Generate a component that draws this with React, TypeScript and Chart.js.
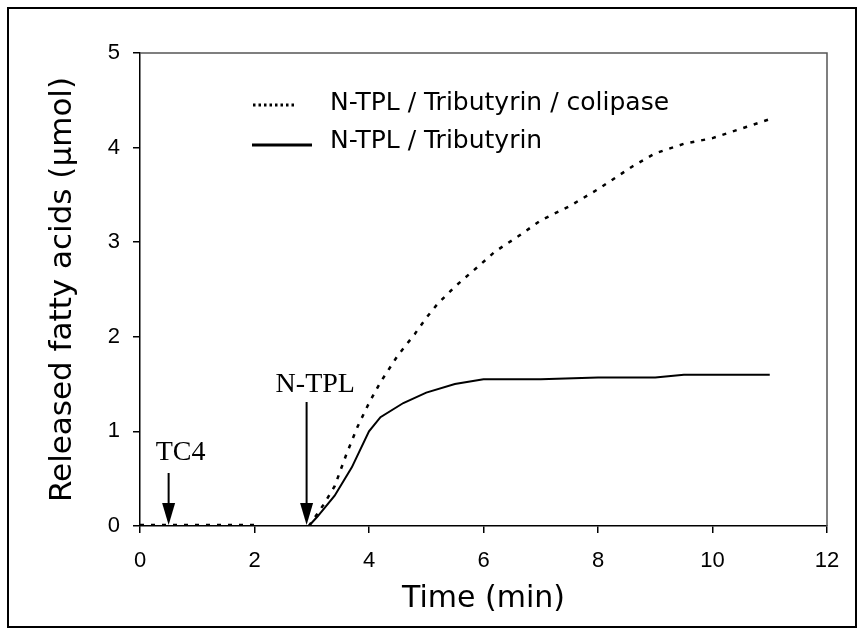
import { useEffect, useRef } from "react";
import { Chart, registerables } from "chart.js";

Chart.register(...registerables);

// Time axis (min) and released fatty acids (µmol)
const colipaseTime = [0, 0.5, 1, 1.5, 2, 2.5, 2.95, 3.2, 3.4, 3.6, 3.8, 4.0, 4.2, 4.5, 4.8, 5.0, 5.2, 5.5, 5.9, 6.2, 6.6, 7.0, 7.5, 8.0, 8.6, 9.0, 9.5, 10.0, 10.6, 11.0];
const colipaseAcids = [0.01, 0.01, 0.01, 0.01, 0.01, null, 0, 0.22, 0.42, 0.75, 1.05, 1.3, 1.52, 1.8, 2.03, 2.2, 2.35, 2.53, 2.74, 2.9, 3.06, 3.23, 3.38, 3.56, 3.8, 3.94, 4.04, 4.1, 4.22, 4.3];

const plainTime = [2.95, 3.1, 3.4, 3.7, 4.0, 4.2, 4.6, 5.0, 5.5, 6.0, 7.0, 8.0, 9.0, 9.5, 11.0];
const plainAcids = [0, 0.1, 0.32, 0.62, 1.0, 1.15, 1.3, 1.41, 1.5, 1.55, 1.55, 1.57, 1.57, 1.6, 1.6];

const seriesLabels = ["N-TPL / Tributyrin / colipase", "N-TPL / Tributyrin"];

// Additions marked with arrows
const additionLabels = ["TC4", "N-TPL"];
const additionTimes = [0.5, 2.91];

const xTicks = { min: 0, max: 12, step: 2 };
const yTicks = { min: 0, max: 5, step: 1 };

const SANS = '"DejaVu Sans", "Liberation Sans", sans-serif';
const TICK_FONT = '"Liberation Sans", Arial, sans-serif';
const SERIF = '"Liberation Serif", "Times New Roman", serif';

const decorations = {
  id: "decorations",
  beforeDraw(chart: Chart) {
    const { ctx, width, height } = chart;
    ctx.save();
    ctx.fillStyle = "#fff";
    ctx.fillRect(0, 0, width, height);
    ctx.restore();
  },
  afterDraw(chart: Chart) {
    const { ctx, chartArea } = chart;
    const xs = chart.scales.x;
    const ys = chart.scales.y;
    ctx.save();

    // outer frame
    ctx.strokeStyle = "#000";
    ctx.lineWidth = 2;
    ctx.strokeRect(8, 8, 848, 619);

    // top and right edges of the plot box
    ctx.strokeStyle = "#555";
    ctx.lineWidth = 1.5;
    ctx.beginPath();
    ctx.moveTo(chartArea.left, chartArea.top);
    ctx.lineTo(chartArea.right, chartArea.top);
    ctx.lineTo(chartArea.right, chartArea.bottom);
    ctx.stroke();

    // arrows marking additions
    const shaftLengths = [53, 124];
    const labelDx = [-13, -31];
    const labelGap = [13, 10];
    const y0 = ys.getPixelForValue(0);
    additionTimes.forEach((t, i) => {
      const x = xs.getPixelForValue(t);
      const tip = y0 - 1;
      const top = y0 - shaftLengths[i];
      const head = 22;
      ctx.strokeStyle = "#000";
      ctx.fillStyle = "#000";
      ctx.lineWidth = 2;
      ctx.beginPath();
      ctx.moveTo(x, top);
      ctx.lineTo(x, tip - head + 2);
      ctx.stroke();
      ctx.beginPath();
      ctx.moveTo(x - 6.5, tip - head);
      ctx.lineTo(x + 6.5, tip - head);
      ctx.lineTo(x, tip);
      ctx.closePath();
      ctx.fill();
      ctx.font = `28px ${SERIF}`;
      ctx.textAlign = "left";
      ctx.textBaseline = "alphabetic";
      ctx.fillText(additionLabels[i], x + labelDx[i], top - labelGap[i]);
    });

    // legend
    const legendX = 253;
    const textX = 330;
    const rowBase = [110, 148];
    ctx.font = `25px ${SANS}`;
    ctx.textAlign = "left";
    ctx.textBaseline = "alphabetic";
    ctx.fillStyle = "#000";
    chart.data.datasets.forEach((ds, i) => {
      ctx.fillText(String(ds.label), textX, rowBase[i]);
      ctx.strokeStyle = "#000";
      ctx.beginPath();
      if (i === 0) {
        ctx.lineWidth = 3;
        ctx.setLineDash([2.5, 3]);
        ctx.moveTo(legendX, rowBase[i] - 5);
        ctx.lineTo(legendX + 44, rowBase[i] - 5);
      } else {
        ctx.lineWidth = 3;
        ctx.setLineDash([]);
        ctx.moveTo(legendX - 1, rowBase[i] - 3);
        ctx.lineTo(legendX + 59, rowBase[i] - 3);
      }
      ctx.stroke();
    });
    ctx.setLineDash([]);
    ctx.restore();
  },
};

export default function App() {
  const ref = useRef<HTMLCanvasElement>(null);

  useEffect(() => {
    document.body.style.margin = "0";
    const canvas = ref.current;
    if (!canvas) return;
    const chart = new Chart(canvas, {
      type: "line",
      data: {
        datasets: [
          {
            label: seriesLabels[0],
            data: colipaseTime.map((t, i) => ({ x: t, y: colipaseAcids[i] })),
            borderColor: "#000",
            borderWidth: 2.5,
            borderDash: [4, 7],
            pointRadius: 0,
            tension: 0,
            spanGaps: false,
            fill: false,
          },
          {
            label: seriesLabels[1],
            data: plainTime.map((t, i) => ({ x: t, y: plainAcids[i] })),
            borderColor: "#000",
            borderWidth: 2,
            pointRadius: 0,
            tension: 0,
            fill: false,
          },
        ],
      },
      options: {
        responsive: false,
        animation: false,
        devicePixelRatio: 1,
        layout: { padding: { top: 53, right: 34, bottom: 0, left: 0 } },
        plugins: { legend: { display: false }, tooltip: { enabled: false } },
        scales: {
          x: {
            type: "linear",
            min: xTicks.min,
            max: xTicks.max,
            afterFit(scale: any) {
              scale.height = 104;
            },
            ticks: {
              stepSize: xTicks.step,
              color: "#000",
              padding: 15,
              font: { family: TICK_FONT, size: 22 },
            },
            grid: { drawOnChartArea: false, tickLength: 7, color: "#000", lineWidth: 1.5 },
            border: { color: "#000", width: 1.5 },
            title: {
              display: true,
              text: "Time (min)",
              color: "#000",
              font: { family: SANS, size: 30 },
              padding: { top: 0, bottom: 12.5 },
            },
          },
          y: {
            min: yTicks.min,
            max: yTicks.max,
            afterFit(scale: any) {
              scale.width = 140;
            },
            ticks: {
              stepSize: yTicks.step,
              color: "#000",
              padding: 13,
              font: { family: TICK_FONT, size: 22 },
            },
            grid: { drawOnChartArea: false, tickLength: 7, color: "#000", lineWidth: 1.5 },
            border: { color: "#000", width: 1.5 },
            title: {
              display: true,
              text: "Released fatty acids (µmol)",
              color: "#000",
              font: { family: SANS, size: 31 },
              padding: { top: 44, bottom: 0 },
            },
          },
        },
      },
      plugins: [decorations],
    });
    return () => chart.destroy();
  }, []);

  return <canvas ref={ref} width={861} height={630} style={{ display: "block" }} />;
}
